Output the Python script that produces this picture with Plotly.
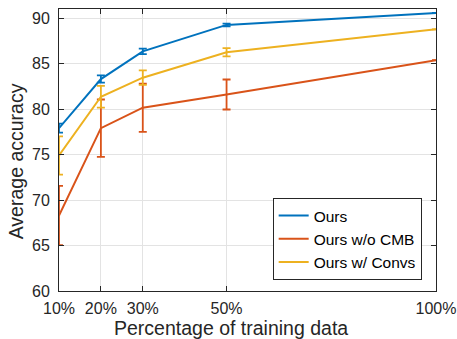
import plotly.graph_objects as go

x_vals = [10, 20, 30, 50, 100]
tick_labels = ["10%", "20%", "30%", "50%", "100%"]
y_ticks = [60, 65, 70, 75, 80, 85, 90]

ours = [77.9, 83.3, 86.35, 89.25, 90.57]
ours_err = [0.5, 0.4, 0.3, 0.15, 0.0]

wo_cmb = [68.3, 77.9, 80.15, 81.6, 85.38]
wo_cmb_err = [3.25, 3.15, 2.65, 1.65, 0.0]

w_convs = [74.9, 81.35, 83.45, 86.25, 88.77]
w_convs_err = [2.1, 1.2, 0.8, 0.45, 0.0]

names = ["Ours", "Ours w/o CMB", "Ours w/ Convs"]
colors = ["#0072BD", "#D95319", "#EDB120"]

x_title = "Percentage of training data"
y_title = "Average accuracy"

fig = go.Figure()
for name, ys, errs, c in zip(names, [ours, wo_cmb, w_convs],
                             [ours_err, wo_cmb_err, w_convs_err], colors):
    fig.add_trace(go.Scatter(
        x=x_vals, y=ys, mode="lines", name=name,
        line=dict(color=c, width=2),
        error_y=dict(type="data", array=errs, visible=True,
                     color=c, thickness=1.8, width=4),
    ))

font_fam = "Liberation Sans, Arial, Helvetica, sans-serif"
axis_common = dict(
    showline=True, linecolor="#262626", linewidth=1, mirror="ticks",
    ticks="inside", ticklen=5, tickcolor="#262626", tickwidth=1,
    showgrid=True, gridcolor="#E3E3E3", gridwidth=1,
    zeroline=False, automargin=False,
    tickfont=dict(family=font_fam, size=16, color="#262626"),
)

fig.update_xaxes(
    range=[10, 100], tickmode="array", tickvals=x_vals, ticktext=tick_labels,
    ticklabelstandoff=3,
    **axis_common,
)
fig.update_yaxes(
    range=[60, 91], tickmode="array", tickvals=y_ticks,
    ticklabelstandoff=5,
    **axis_common,
)

fig.add_annotation(
    text=x_title, xref="paper", yref="paper", x=0.455, y=-0.132,
    xanchor="center", yanchor="middle", showarrow=False,
    font=dict(family=font_fam, size=19.5, color="#262626"),
)
fig.add_annotation(
    text=y_title, xref="paper", yref="paper", x=-0.114, y=0.46,
    xanchor="center", yanchor="middle", showarrow=False, textangle=-90,
    font=dict(family=font_fam, size=19.5, color="#262626"),
)

fig.update_layout(
    width=457, height=339,
    margin=dict(l=59, r=21, t=9, b=48),
    plot_bgcolor="white", paper_bgcolor="white",
    showlegend=True,
    legend=dict(
        x=0.962, y=0.039, xanchor="right", yanchor="bottom",
        bgcolor="white", bordercolor="#262626", borderwidth=1,
        font=dict(family=font_fam, size=15.5, color="#000000"),
        tracegroupgap=0, itemwidth=30,
    ),
    font=dict(family=font_fam),
)

fig.write_html("out.html",
               config={"displayModeBar": False},
               post_script="document.body.style.margin='0';document.body.style.padding='0';")
